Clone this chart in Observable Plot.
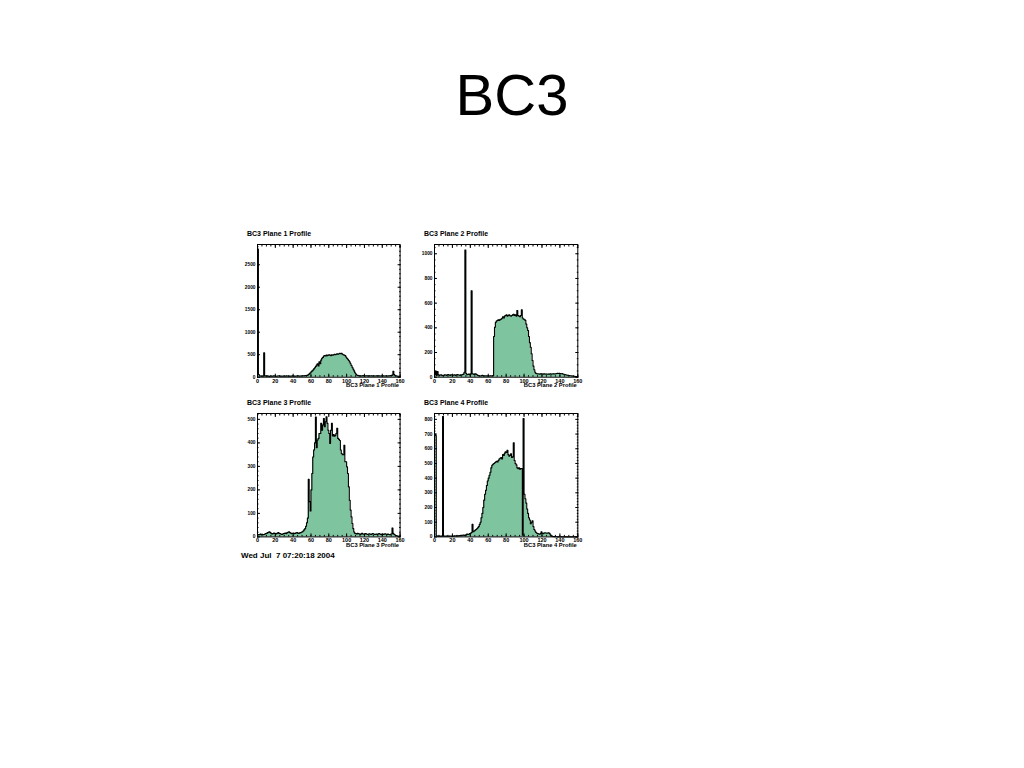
<!DOCTYPE html>
<html>
<head>
<meta charset="utf-8">
<script src="https://cdn.jsdelivr.net/npm/d3@7"></script>
<script src="https://cdn.jsdelivr.net/npm/@observablehq/plot@0.6"></script>
<style>
  body { margin: 0; background: #fff; width: 1024px; height: 768px; position: relative; overflow: hidden;
         font-family: "Liberation Sans", Arial, Helvetica, sans-serif; }
  #title { position: absolute; left: 0; width: 1024px; top: 66px; text-align: center;
           font-size: 58px; line-height: 58px; color: #000; }
  .panel { position: absolute; }
  #date { position: absolute; left: 241px; top: 551px; font-size: 8px; line-height: 10px; font-weight: bold;
          white-space: pre; color: #000; }
</style>
</head>
<body>
<div id="title">BC3</div>
<div id="p1" class="panel"></div>
<div id="p2" class="panel"></div>
<div id="p3" class="panel"></div>
<div id="p4" class="panel"></div>
<div id="date">Wed Jul  7 07:20:18 2004</div>
<script>
// ---- data (counts per unit bin, bins 0..159) ----
const panelTitles = ["BC3 Plane 1 Profile", "BC3 Plane 2 Profile", "BC3 Plane 3 Profile", "BC3 Plane 4 Profile"];
const xTickValues = [0, 20, 40, 60, 80, 100, 120, 140, 160];

const plane1 = [
  2850, 60, 30, 25, 20, 25, 20, 540, 30, 25,
  20, 30, 22, 18, 25, 28, 20, 24, 30, 26,
  22, 20, 25, 28, 30, 24, 22, 26, 20, 25,
  28, 22, 30, 26, 24, 20, 25, 22, 28, 30,
  26, 24, 22, 25, 28, 30, 27, 24, 26, 28,
  30, 32, 30, 35, 38, 40, 45, 60, 80, 100,
  120, 140, 160, 185, 210, 240, 270, 300, 250, 340,
  300, 380, 420, 440, 470, 480, 470, 490, 480, 490,
  500, 490, 480, 500, 490, 500, 510, 500, 510, 520,
  510, 520, 530, 520, 530, 510, 500, 490, 480, 450,
  420, 400, 370, 340, 300, 260, 220, 180, 140, 100,
  70, 50, 40, 35, 30, 32, 28, 30, 34, 30,
  28, 30, 32, 30, 28, 30, 26, 30, 32, 28,
  30, 28, 26, 30, 28, 32, 30, 28, 26, 30,
  28, 30, 26, 28, 30, 26, 28, 30, 32, 35,
  40, 45, 130, 60, 35, 30, 25, 20, 20, 15
];
const plane2 = [
  20, 50, 15, 45, 20, 15, 18, 20, 15, 12,
  15, 20, 18, 15, 20, 22, 18, 15, 20, 18,
  15, 18, 20, 15, 18, 22, 20, 18, 15, 20,
  18, 22, 25, 40, 1030, 30, 20, 22, 25, 20,
  25, 700, 28, 25, 22, 28, 25, 20, 15, 12,
  12, 10, 12, 15, 12, 10, 12, 10, 12, 10,
  12, 10, 12, 10, 12, 12, 330, 405, 445, 455,
  460, 465, 460, 468, 470, 478, 490, 480, 495, 500,
  505, 495, 500, 505, 498, 495, 500, 505, 510, 500,
  505, 495, 540, 500, 495, 490, 500, 545, 480, 470,
  470, 460, 430, 400, 378, 330, 280, 243, 190, 135,
  90, 60, 40, 30, 28, 27, 26, 25, 27, 28,
  26, 25, 27, 25, 26, 25, 24, 26, 25, 27,
  25, 26, 28, 27, 26, 28, 30, 32, 30, 32,
  30, 28, 30, 26, 24, 22, 20, 18, 16, 15,
  14, 12, 12, 10, 10, 8, 8, 6, 6, 5
];
const plane3 = [
  8, 10, 9, 12, 10, 11, 9, 10, 12, 14,
  15, 18, 20, 22, 18, 15, 12, 14, 16, 15,
  12, 14, 16, 18, 15, 14, 12, 10, 12, 14,
  15, 16, 14, 18, 20, 22, 18, 16, 14, 15,
  16, 14, 15, 17, 18, 16, 15, 17, 18, 20,
  22, 25, 30, 35, 45, 60, 80, 245, 150, 110,
  200, 270, 340, 370, 400, 510, 380, 412, 419, 440,
  440, 483, 454, 476, 504, 469, 490, 511, 483, 454,
  440, 398, 454, 483, 430, 435, 428, 432, 440, 462,
  419, 415, 410, 370, 355, 350, 350, 390, 320, 320,
  298, 270, 213, 156, 114, 85, 57, 35, 21, 15,
  14, 12, 15, 14, 12, 10, 13, 15, 12, 11,
  12, 14, 12, 10, 11, 13, 12, 10, 12, 14,
  12, 10, 11, 12, 10, 12, 14, 12, 10, 11,
  12, 10, 12, 13, 11, 10, 12, 10, 9, 11,
  12, 38, 15, 10, 8, 6, 5, 4, 3, 2
];
const plane4 = [
  700, 690, 8, 5, 6, 5, 4, 6, 5, 820,
  6, 5, 4, 6, 5, 4, 5, 6, 4, 5,
  6, 5, 8, 6, 7, 8, 6, 9, 8, 10,
  9, 11, 12, 10, 12, 14, 20, 16, 18, 22,
  25, 30, 86, 35, 40, 45, 50, 55, 62, 70,
  85, 100, 130, 160, 200, 250, 290, 318, 350, 380,
  400, 420, 440, 470, 488, 495, 500, 505, 510, 515,
  510, 520, 530, 535, 540, 530, 560, 555, 570, 580,
  575, 590, 560, 550, 555, 565, 540, 545, 640, 520,
  500, 490, 470, 465, 470, 460, 465, 465, 12, 806,
  290, 260, 230, 190, 160, 130, 115, 90, 100, 110,
  70, 50, 40, 30, 25, 22, 20, 18, 22, 34,
  25, 22, 27, 28, 26, 25, 27, 28, 24, 15,
  7, 5, 3, 2, 2, 1, 1, 0, 0, 0,
  0, 0, 0, 0, 0, 0, 0, 0, 0, 0,
  0, 0, 0, 0, 0, 0, 0, 0, 0, 0
];

const yTicks1 = [0, 500, 1000, 1500, 2000, 2500];
const yTicks2 = [0, 200, 400, 600, 800, 1000];
const yTicks3 = [0, 100, 200, 300, 400, 500];
const yTicks4 = [0, 100, 200, 300, 400, 500, 600, 700, 800];
const yMaxes = [2950, 1075, 525, 840];
const yMinorSteps = [100, 50, 20, 20];

// ---- layout ----
const GREEN = "#7ec49e";
const mL = 22, mR = 6, mT = 18, mB = 18;
const layout = [
  { id: "p1", left: 256.7, top: 244, fw: 142.6, fh: 132.7 },
  { id: "p2", left: 434.0, top: 244, fw: 143.3, fh: 132.7 },
  { id: "p3", left: 256.7, top: 413.3, fw: 142.6, fh: 123.4 },
  { id: "p4", left: 434.0, top: 413.3, fw: 143.3, fh: 123.4 }
];
const series = [plane1, plane2, plane3, plane4];
const yTickSets = [yTicks1, yTicks2, yTicks3, yTicks4];
const xMinor = d3.range(0, 161, 5);

const blank = () => "";
const fmt = d => `${d}`;

layout.forEach((L, k) => {
  const values = series[k];
  const outline = values.map((v, i) => ({ x: i, y: v }));
  outline.push({ x: values.length, y: values[values.length - 1] });
  const yMinor = d3.range(0, yMaxes[k] + 1, yMinorSteps[k]);
  const W = L.fw + mL + mR, H = L.fh + mT + mB;
  const chart = Plot.plot({
    width: W, height: H,
    marginLeft: mL, marginRight: mR, marginTop: mT, marginBottom: mB,
    x: { domain: [0, 160], label: null },
    y: { domain: [0, yMaxes[k]], label: null },
    style: { fontFamily: "'Liberation Sans', Arial, sans-serif", fontSize: "5.5px", fontWeight: "bold",
             background: "transparent", overflow: "visible", color: "#000" },
    marks: [
      Plot.areaY(outline, { x: "x", y: "y", curve: "step-after", fill: GREEN }),
      Plot.line(outline, { x: "x", y: "y", curve: "step-after", stroke: "#000", strokeWidth: 1.1 }),
      Plot.frame({ stroke: "#000", strokeWidth: 1 }),
      Plot.axisX({ ticks: xTickValues, tickSize: -3, tickPadding: 4.5, tickFormat: fmt, fontSize: 5.5 }),
      Plot.axisX({ ticks: xMinor, tickSize: -1.5, tickFormat: blank }),
      Plot.axisX({ anchor: "top", ticks: xTickValues, tickSize: -3, tickFormat: blank }),
      Plot.axisX({ anchor: "top", ticks: xMinor, tickSize: -1.5, tickFormat: blank }),
      Plot.axisY({ ticks: yTickSets[k], tickSize: -3, tickPadding: 5, tickFormat: fmt, fontSize: 4.8 }),
      Plot.axisY({ ticks: yMinor, tickSize: -1.5, tickFormat: blank }),
      Plot.axisY({ anchor: "right", ticks: yTickSets[k], tickSize: -3, tickFormat: blank }),
      Plot.axisY({ anchor: "right", ticks: yMinor, tickSize: -1.5, tickFormat: blank }),
      Plot.text([panelTitles[k]], { frameAnchor: "top-left", dx: -10.5, dy: -13, textAnchor: "start",
                                    fontSize: 7, fontWeight: "bold", fill: "#000" }),
      Plot.text([panelTitles[k]], { frameAnchor: "bottom-right", dx: -1, dy: 10.2, textAnchor: "end",
                                    fontSize: 5.8, fontWeight: "bold", fill: "#000" })
    ]
  });
  const host = document.getElementById(L.id);
  host.style.left = (L.left - mL) + "px";
  host.style.top = (L.top - mT) + "px";
  host.appendChild(chart);
});
</script>
</body>
</html>
